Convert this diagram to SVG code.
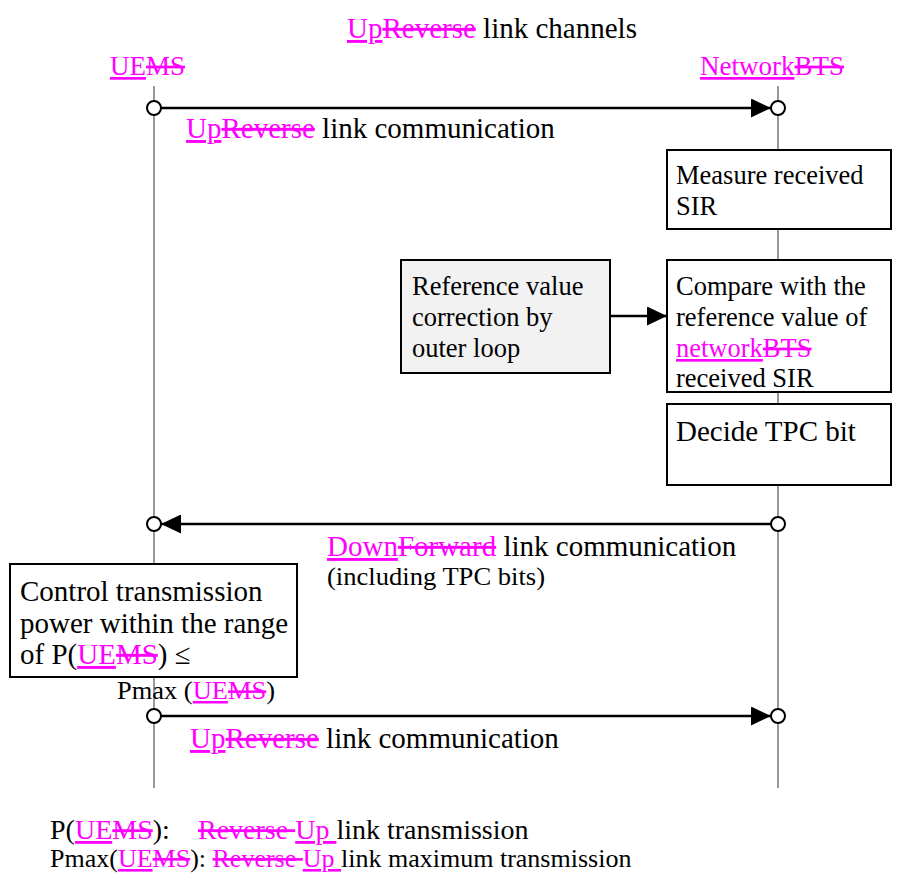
<svg xmlns="http://www.w3.org/2000/svg" width="910" height="873" viewBox="0 0 910 873">
<defs>
<marker id="ah" viewBox="0 0 20 20" refX="20" refY="10" markerWidth="20" markerHeight="19" markerUnits="userSpaceOnUse" orient="auto" preserveAspectRatio="none"><path d="M0,0 L20,10 L0,20 Z" fill="#000"/></marker>
<style>
text{font-family:'Liberation Serif','Times New Roman',serif;fill:#000}
.m{fill:#ff00ff}
.u{text-decoration:underline}
.s{text-decoration:line-through}
.box{fill:#fff;stroke:#000;stroke-width:2}
.life{stroke:#555;stroke-width:1.2;fill:none}
.msg{stroke:#000;stroke-width:2.5;fill:none}
.dot{fill:#fff;stroke:#000;stroke-width:2}
</style>
</defs>
<rect width="910" height="873" fill="#fff"/>
<text font-size="29" x="347" y="38"><tspan class="m u">Up</tspan><tspan class="m s">Reverse</tspan> link channels</text>
<g id="UE"><text font-size="27" x="110" y="75"><tspan class="m u">UE</tspan><tspan class="m s">MS</tspan></text>
<line class="life" x1="154" y1="86" x2="154" y2="788"/></g>
<g id="Network"><text font-size="27" x="700" y="75"><tspan class="m u">Network</tspan><tspan class="m s">BTS</tspan></text>
<line class="life" x1="778" y1="86" x2="778" y2="788"/></g>
<g id="connectors">
<line class="msg" x1="161" y1="108" x2="771" y2="108" marker-end="url(#ah)"/>
<line class="msg" x1="771" y1="524" x2="161" y2="524" marker-end="url(#ah)"/>
<line class="msg" x1="161" y1="716" x2="771" y2="716" marker-end="url(#ah)"/>
<line class="msg" x1="610" y1="316" x2="667" y2="316" marker-end="url(#ah)"/>
<circle class="dot" cx="154" cy="108" r="7"/><circle class="dot" cx="778" cy="108" r="7"/>
<circle class="dot" cx="154" cy="524" r="7"/><circle class="dot" cx="778" cy="524" r="7"/>
<circle class="dot" cx="154" cy="716" r="7"/><circle class="dot" cx="778" cy="716" r="7"/>
<text font-size="29" x="186" y="138"><tspan class="m u">Up</tspan><tspan class="m s">Reverse</tspan> link communication</text>
<text font-size="29" x="327" y="556"><tspan class="m u">Down</tspan><tspan class="m s">Forward</tspan> link communication</text>
<text font-size="25" x="327" y="585" textLength="218" lengthAdjust="spacingAndGlyphs">(including TPC bits)</text>
<text font-size="29" x="190" y="748"><tspan class="m u">Up</tspan><tspan class="m s">Reverse</tspan> link communication</text>
</g>
<g id="measure"><rect class="box" x="667" y="150" width="224" height="79"/>
<text font-size="26.5" x="676" y="184">Measure received</text>
<text font-size="26.5" x="676" y="215">SIR</text></g>
<g id="reference"><rect class="box" x="401" y="260" width="209" height="113" style="fill:#f2f2f2"/>
<text font-size="26.5" x="412" y="295">Reference value</text>
<text font-size="26.5" x="412" y="326">correction by</text>
<text font-size="26.5" x="412" y="357">outer loop</text></g>
<g id="compare"><rect class="box" x="667" y="260" width="224" height="132"/>
<text font-size="26.5" x="676" y="295">Compare with the</text>
<text font-size="26.5" x="676" y="326">reference value of</text>
<text font-size="26.5" x="676" y="357"><tspan class="m u">network</tspan><tspan class="m s">BTS</tspan></text>
<text font-size="26.5" x="676" y="387">received SIR</text></g>
<g id="decide"><rect class="box" x="667" y="404" width="224" height="81"/>
<text font-size="29" x="676" y="441">Decide TPC bit</text></g>
<g id="control"><rect class="box" x="10" y="564" width="287" height="113"/>
<text font-size="29" x="20" y="601">Control transmission</text>
<text font-size="29" x="20" y="633">power within the range</text>
<text font-size="29" x="20" y="664">of P(<tspan class="m u">UE</tspan><tspan class="m s">MS</tspan>) &#8804;</text></g>
<text font-size="25" x="117" y="699" textLength="158" lengthAdjust="spacingAndGlyphs">Pmax (<tspan class="m u">UE</tspan><tspan class="m s">MS</tspan>)</text>
<text font-size="28" x="50" y="839">P(<tspan class="m u">UE</tspan><tspan class="m s">MS</tspan>):<tspan x="198" class="m s">Reverse </tspan><tspan class="m u">Up </tspan>link transmission</text>
<text font-size="26" x="50" y="867">Pmax(<tspan class="m u">UE</tspan><tspan class="m s">MS</tspan>): <tspan class="m s">Reverse </tspan><tspan class="m u">Up </tspan>link maximum transmission</text>
</svg>
